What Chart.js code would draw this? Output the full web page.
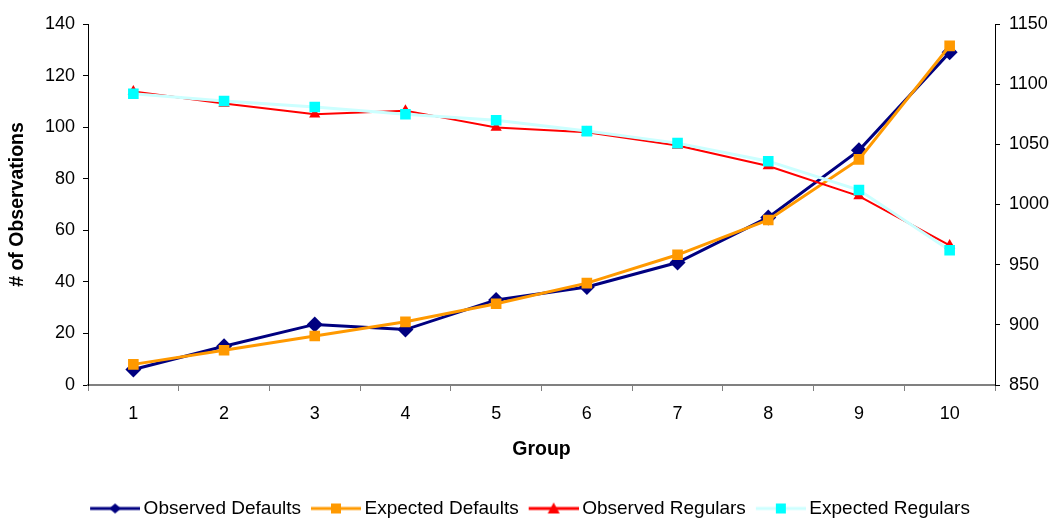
<!DOCTYPE html>
<html>
<head>
<meta charset="utf-8">
<script src="https://cdn.jsdelivr.net/npm/chart.js@4/dist/chart.umd.min.js"></script>
<style>
  html, body { margin: 0; padding: 0; background: #fff; }
  #wrap { width: 1056px; height: 520px; }
</style>
</head>
<body>
<div id="wrap"><canvas id="obsChart" width="1056" height="520"></canvas></div>
<script>
// Observed vs expected counts per group
const groups = ['1', '2', '3', '4', '5', '6', '7', '8', '9', '10'];
const observedDefaults = [6, 15, 23.5, 21.5, 33, 38, 47.5, 65, 91, 129];
const expectedDefaults = [8, 13.5, 19, 24.5, 31.5, 39.5, 50.5, 64, 87.5, 131.5];
const observedRegulars = [1094, 1084, 1075, 1078, 1064, 1060, 1049, 1032, 1007, 966];
const expectedRegulars = [1092, 1086, 1081, 1075, 1070, 1061, 1051, 1036, 1012, 962];

const FONT = "'Liberation Sans', Arial, sans-serif";
const FS = 18;

// legend icon: 50px line with the marker in the middle, shifted right in the box
function legendIcon(lineColor, lineWidth, shape, markColor) {
  const c = document.createElement('canvas');
  c.width = 60; c.height = 14;
  const g = c.getContext('2d');
  g.strokeStyle = lineColor;
  g.lineWidth = lineWidth;
  g.beginPath(); g.moveTo(10, 7); g.lineTo(60, 7); g.stroke();
  g.fillStyle = markColor;
  g.beginPath();
  const m = 35;
  if (shape === 'diamond') {
    g.moveTo(m, 2); g.lineTo(m + 6, 7); g.lineTo(m, 12); g.lineTo(m - 6, 7);
  } else if (shape === 'triangle') {
    g.moveTo(m, 1); g.lineTo(m + 6, 12); g.lineTo(m - 6, 12);
  } else {
    g.rect(m - 5, 2, 10, 10);
  }
  g.closePath(); g.fill();
  return c;
}

const icons = [
  legendIcon('#000080', 3, 'diamond', '#000080'),
  legendIcon('#FF9900', 3, 'square', '#FF9900'),
  legendIcon('#FF0000', 3, 'triangle', '#FF0000'),
  legendIcon('#CCFFFF', 3, 'square', '#00FFFF')
];

new Chart(document.getElementById('obsChart'), {
  type: 'line',
  data: {
    labels: groups,
    datasets: [
      {
        label: 'Observed Defaults', data: observedDefaults, yAxisID: 'y',
        borderColor: '#000080', backgroundColor: '#000080', borderWidth: 3,
        pointStyle: 'rectRot', pointRadius: 8, pointBorderWidth: 0, order: 4
      },
      {
        label: 'Expected Defaults', data: expectedDefaults, yAxisID: 'y',
        borderColor: '#FF9900', backgroundColor: '#FF9900', borderWidth: 3,
        pointStyle: 'rect', pointRadius: 7.5, pointBorderWidth: 0, order: 3
      },
      {
        label: 'Observed Regulars', data: observedRegulars, yAxisID: 'y1',
        borderColor: '#FF0000', backgroundColor: '#FF0000', borderWidth: 2,
        pointStyle: 'triangle', pointRadius: 6.5, pointBorderWidth: 0, order: 2
      },
      {
        label: 'Expected Regulars', data: expectedRegulars, yAxisID: 'y1',
        borderColor: '#CCFFFF', backgroundColor: '#00FFFF', borderWidth: 3,
        pointStyle: 'rect', pointRadius: 7.5, pointBorderWidth: 0, order: 1
      }
    ]
  },
  options: {
    responsive: false,
    animation: false,
    layout: { padding: { top: 24, left: 0, right: 0, bottom: -8 } },
    plugins: {
      tooltip: { enabled: false },
      legend: {
        position: 'bottom',
        labels: {
          usePointStyle: true,
          pointStyleWidth: 48,
          padding: 6,
          color: '#000',
          font: { family: FONT, size: 19 },
          sort: (a, b) => a.datasetIndex - b.datasetIndex,
          generateLabels(chart) {
            const items = Chart.defaults.plugins.legend.labels.generateLabels(chart);
            items.forEach(it => { it.pointStyle = icons[it.datasetIndex]; });
            return items;
          }
        }
      }
    },
    scales: {
      x: {
        offset: true,
        grid: { offset: true, drawOnChartArea: false, drawTicks: true, tickLength: 6, color: '#808080' },
        border: { color: '#808080', width: 2 },
        ticks: { color: '#000', padding: 12, maxRotation: 0, font: { family: FONT, size: FS } },
        title: { display: true, text: 'Group', color: '#000', padding: { top: 0, bottom: 32 }, font: { family: FONT, size: 19.5, weight: 'bold' } },
        afterFit(s) { s.height = 108; }
      },
      y: {
        position: 'left',
        min: 0, max: 140,
        ticks: { stepSize: 20, color: '#000', padding: 8, font: { family: FONT, size: FS } },
        grid: { drawOnChartArea: false, drawTicks: true, tickLength: 5, color: '#000' },
        border: { color: '#000', width: 1 },
        title: { display: true, text: '# of Observations', color: '#000', padding: { top: 6, bottom: 0 }, font: { family: FONT, size: 19.5, weight: 'bold' } },
        afterFit(s) { s.width = 88; }
      },
      y1: {
        position: 'right',
        min: 850, max: 1150,
        ticks: { stepSize: 50, color: '#000', padding: 9, font: { family: FONT, size: FS }, callback: v => String(v) },
        grid: { drawOnChartArea: false, drawTicks: true, tickLength: 5, color: '#000' },
        border: { color: '#000', width: 1 },
        afterFit(s) { s.width = 61; }
      }
    }
  }
});
</script>
</body>
</html>
